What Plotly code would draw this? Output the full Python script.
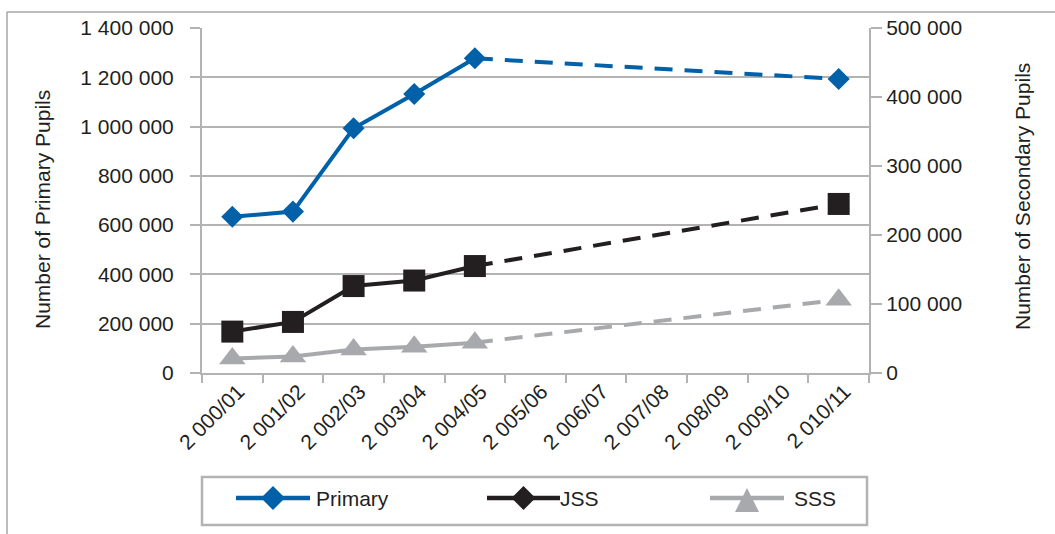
import plotly.graph_objects as go

# School years on the category axis
years = ["2 000/01", "2 001/02", "2 002/03", "2 003/04", "2 004/05", "2 005/06",
         "2 006/07", "2 007/08", "2 008/09", "2 009/10", "2 010/11"]

# Enrolment counts (None = no figure for that year)
primary = [634000, 655000, 993000, 1132000, 1277000, None, None, None, None, None, 1193000]
jss = [60000, 74000, 126000, 134000, 155000, None, None, None, None, None, 245000]
sss = [21000, 24000, 34000, 38000, 44000, None, None, None, None, None, 106000]

left_ticks = [0, 200000, 400000, 600000, 800000, 1000000, 1200000, 1400000]
right_ticks = [0, 100000, 200000, 300000, 400000, 500000]

FONT = "Liberation Sans, Arial, Helvetica, sans-serif"
FS = 21
TXT = "#231f20"
GRID = "#b3b3b3"
BLUE = "#0061a8"
BLACK = "#231f20"
GREY = "#a7a9ac"

W, H = 1055, 534
PLOT_L, PLOT_R, PLOT_T, PLOT_B = 202, 869, 28, 373


def px(x):
    """page pixel x -> paper x"""
    return (x - PLOT_L) / (PLOT_R - PLOT_L)


def py(y):
    """page pixel y -> paper y"""
    return (PLOT_B - y) / (PLOT_B - PLOT_T)


series = [
    ("Primary", primary, BLUE, "diamond", 17, "y"),
    ("JSS", jss, BLACK, "square", 22, "y2"),
    ("SSS", sss, GREY, "triangle-up", 23, "y2"),
]

fig = go.Figure()

# Dashed projection between the last observed year and the final year
for name, vals, color, sym, size, yax in series:
    idx = [i for i, v in enumerate(vals) if v is not None]
    a = max(i for i in idx if i + 1 < len(vals) and vals[i + 1] is None)
    b = idx[-1]
    fig.add_trace(go.Scatter(
        x=[years[a], years[b]], y=[vals[a], vals[b]], yaxis=yax,
        mode="lines", line=dict(color=color, width=4, dash="18px,12px"),
        showlegend=False, hoverinfo="skip"))

# Observed values with markers
for name, vals, color, sym, size, yax in series:
    fig.add_trace(go.Scatter(
        x=years, y=vals, yaxis=yax, name=name, connectgaps=False,
        mode="lines+markers", line=dict(color=color, width=4),
        marker=dict(symbol=sym, size=size, color=color, line=dict(width=0)),
        showlegend=False))

shapes = []
line_gray = dict(color="#a6a6a6", width=1.5)
# outer frame (top and left edges)
shapes.append(dict(type="line", xref="paper", yref="paper",
                   x0=px(7), y0=py(12), x1=px(W), y1=py(12), line=line_gray))
shapes.append(dict(type="line", xref="paper", yref="paper",
                   x0=px(7), y0=py(12), x1=px(7), y1=py(H + 2), line=line_gray))
# legend box
shapes.append(dict(type="rect", xref="paper", yref="paper",
                   x0=px(202), y0=py(477), x1=px(867), y1=py(525),
                   line=dict(color=GRID, width=2.5), fillcolor="rgba(0,0,0,0)"))


def poly(points):
    return "M " + " L ".join(f"{px(x):.5f},{py(y):.5f}" for x, y in points) + " Z"


def diamond(cx, cy, r):
    return poly([(cx - r, cy), (cx, cy - r), (cx + r, cy), (cx, cy + r)])


def triangle(cx, cy, r):
    return poly([(cx - r, cy + r), (cx, cy - r), (cx + r, cy + r)])


legend_items = [("Primary", BLUE, "diamond", 236, 310, 314),
                ("JSS", BLACK, "diamond", 487, 560, 558),
                ("SSS", GREY, "triangle", 710, 784, 792)]
LEG_Y = 498
annotations = []
for name, color, sym, x0, x1, tx in legend_items:
    shapes.append(dict(type="line", xref="paper", yref="paper",
                       x0=px(x0), y0=py(LEG_Y), x1=px(x1), y1=py(LEG_Y),
                       line=dict(color=color, width=4.5)))
    cx = (x0 + x1) / 2
    path = diamond(cx, LEG_Y, 12) if sym == "diamond" else triangle(cx, LEG_Y + 2, 12)
    shapes.append(dict(type="path", xref="paper", yref="paper", path=path,
                       fillcolor=color, line=dict(width=0)))
    annotations.append(dict(x=px(tx), y=py(LEG_Y), xref="paper", yref="paper",
                            text=name, showarrow=False, xanchor="left", yanchor="middle",
                            font=dict(family=FONT, size=FS, color=TXT)))

annotations.append(dict(x=px(42), y=py(210), xref="paper", yref="paper",
                        xanchor="center", yanchor="middle",
                        text="Number of Primary Pupils", textangle=-90, showarrow=False,
                        font=dict(family=FONT, size=FS, color=TXT)))
annotations.append(dict(x=px(1022), y=py(197), xref="paper", yref="paper",
                        xanchor="center", yanchor="middle",
                        text="Number of Secondary Pupils", textangle=-90, showarrow=False,
                        font=dict(family=FONT, size=FS, color=TXT)))

fig.update_layout(
    width=W, height=H,
    margin=dict(l=PLOT_L, r=W - PLOT_R, t=PLOT_T, b=H - PLOT_B, autoexpand=False),
    paper_bgcolor="white", plot_bgcolor="white",
    separators=". ",
    font=dict(family=FONT, size=FS, color=TXT),
    showlegend=False,
    shapes=shapes, annotations=annotations,
    xaxis=dict(
        type="category", categoryorder="array", categoryarray=years,
        range=[-0.5, len(years) - 0.5],
        tickson="boundaries", ticks="outside", ticklen=8, tickwidth=2, tickcolor=GRID,
        showline=True, linecolor=GRID, linewidth=2, showgrid=False,
        tickangle=-45, tickfont=dict(family=FONT, size=FS, color=TXT),
        ticklabelshift=6, ticklabelstandoff=-4,
        fixedrange=True),
    yaxis=dict(
        range=[0, 1400000], tickvals=left_ticks, tickformat=",d",
        showgrid=True, gridcolor=GRID, gridwidth=2,
        showline=True, linecolor=GRID, linewidth=2,
        ticks="outside", ticklen=10, tickwidth=2, tickcolor=GRID,
        ticklabelstandoff=12,
        zeroline=False, fixedrange=True),
    yaxis2=dict(
        overlaying="y", side="right",
        range=[0, 500000], tickvals=right_ticks, tickformat=",d",
        tickprefix="\u00a0\u00a0\u00a0",
        showgrid=False, showline=True, linecolor=GRID, linewidth=2,
        ticks="outside", ticklen=11, tickwidth=2, tickcolor=GRID,
        zeroline=False, fixedrange=True),
)

fig.write_html("out.html")
